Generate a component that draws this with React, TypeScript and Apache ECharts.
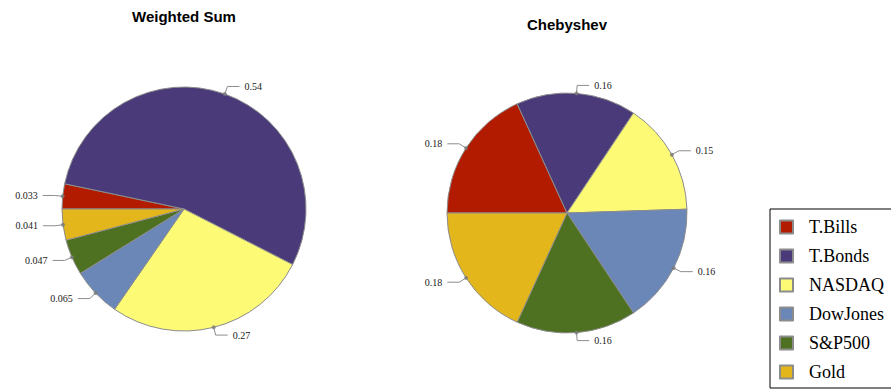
import React, { useEffect, useRef } from "react";
import * as echarts from "echarts";

// Portfolio weights by asset class under two aggregation methods
const assets = ["T.Bills", "T.Bonds", "NASDAQ", "DowJones", "S&P500", "Gold"];
const weightedSum = [0.033, 0.54, 0.27, 0.065, 0.047, 0.041];
const chebyshev = [0.18, 0.16, 0.15, 0.16, 0.16, 0.18];
const assetColors = ["#B31B00", "#4B3A7A", "#FDFB76", "#6B87B8", "#4E7021", "#E3B71C"];
const titles = ["Weighted Sum", "Chebyshev"];

// Pie placement
const pies = [
  { center: [184, 209], radius: 122, titleTop: 9 },
  { center: [567, 213], radius: 120, titleTop: 17 },
];

const sum = (a: number[]) => a.reduce((s, v) => s + v, 0);

// Mid-point of each slice along the cumulative value scale (for the label anchor dots)
const midPoints = (vals: number[]) => {
  let acc = 0;
  return vals.map((v) => {
    const m = acc + v / 2;
    acc += v;
    return [1, m];
  });
};

export default function App() {
  const ref = useRef<HTMLDivElement>(null);

  useEffect(() => {
    document.body.style.margin = "0";
    if (!ref.current) return;
    const chart = echarts.init(ref.current, null, { renderer: "svg" });
    const datasets = [weightedSum, chebyshev];

    const pieSeries = datasets.map((vals, i) => ({
      type: "pie",
      center: pies[i].center,
      radius: pies[i].radius,
      startAngle: 180,
      clockwise: true,
      silent: true,
      data: vals.map((v, k) => ({
        name: assets[k],
        value: v,
        itemStyle: { color: assetColors[k] },
      })),
      itemStyle: { borderColor: "#8c8c8c", borderWidth: 1 },
      label: {
        position: "outside",
        formatter: (p: any) => String(p.value),
        fontFamily: "Liberation Serif",
        fontSize: 10,
        color: "#1a1a1a",
      },
      labelLine: {
        show: true,
        length: 8,
        length2: 12,
        lineStyle: { color: "#8c8c8c", width: 1 },
      },
      z: 2,
    }));

    const dotSeries = datasets.map((vals, i) => ({
      type: "scatter",
      coordinateSystem: "polar",
      polarIndex: i,
      symbol: "circle",
      symbolSize: 4,
      silent: true,
      itemStyle: { color: "#7a7a7a" },
      data: midPoints(vals),
      z: 5,
    }));

    const option: any = {
      animation: false,
      backgroundColor: "#ffffff",
      title: titles.map((t, i) => ({
        text: t,
        left: pies[i].center[0],
        top: pies[i].titleTop,
        textAlign: "center",
        padding: 0,
        textStyle: {
          fontFamily: "Liberation Sans",
          fontWeight: "bold",
          fontSize: 15,
          color: "#000",
        },
      })),
      polar: pies.map((p) => ({ center: p.center, radius: p.radius })),
      angleAxis: datasets.map((vals, i) => ({
        polarIndex: i,
        type: "value",
        min: 0,
        max: sum(vals),
        startAngle: 180,
        clockwise: true,
        axisLine: { show: false },
        axisTick: { show: false },
        axisLabel: { show: false },
        splitLine: { show: false },
      })),
      radiusAxis: datasets.map((_, i) => ({
        polarIndex: i,
        type: "value",
        min: 0,
        max: 1,
        axisLine: { show: false },
        axisTick: { show: false },
        axisLabel: { show: false },
        splitLine: { show: false },
      })),
      legend: {
        data: assets,
        orient: "vertical",
        left: 770,
        top: 209,
        padding: [9, 40, 7, 9],
        itemWidth: 13,
        itemHeight: 13,
        itemGap: 11,
        borderColor: "#000",
        borderWidth: 1,
        selectedMode: false,
        icon: "rect",
        textStyle: {
          fontFamily: "Liberation Serif",
          fontSize: 18,
          color: "#000",
          padding: [0, 0, 0, 11],
        },
      },
      series: [...pieSeries, ...dotSeries],
    };

    chart.setOption(option);
    return () => chart.dispose();
  }, []);

  return <div ref={ref} style={{ width: 891, height: 390 }} />;
}
